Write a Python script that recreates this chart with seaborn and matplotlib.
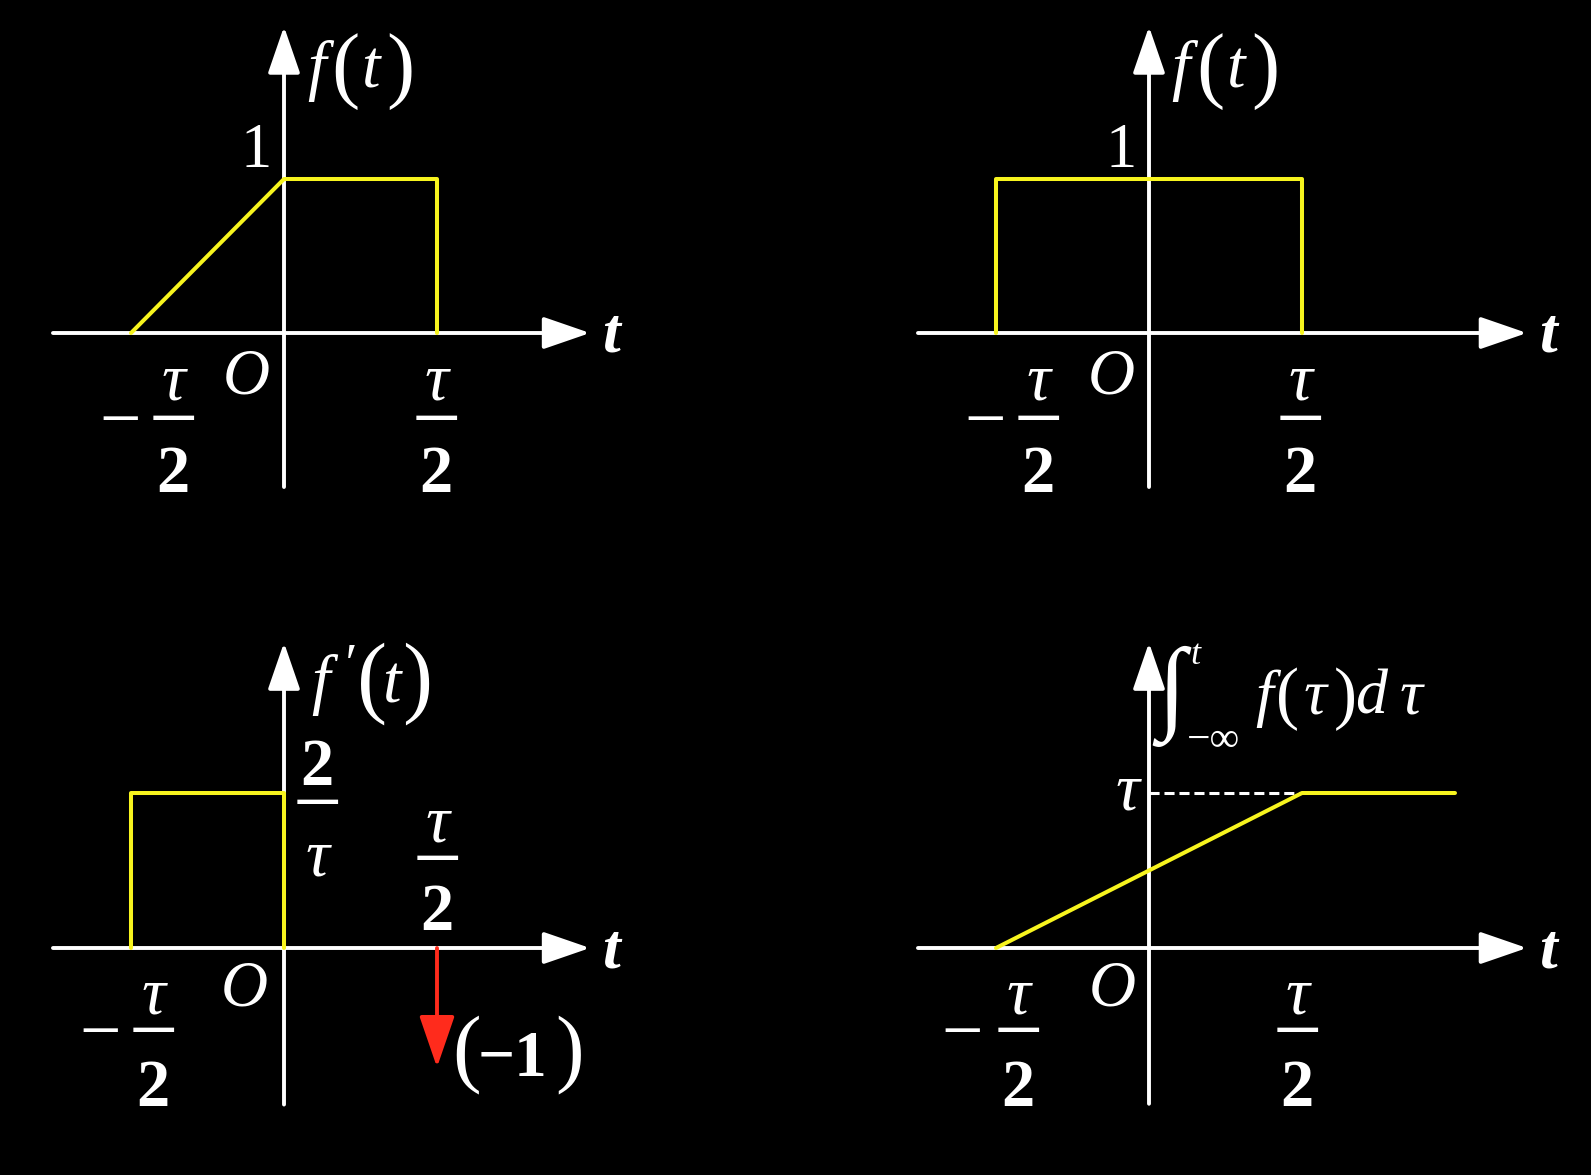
import matplotlib
matplotlib.use("Agg")
import matplotlib.pyplot as plt
import seaborn as sns

# ---------------- data (tau = 2, so tau/2 = 1) ----------------
# panel 1: trapezoid-like f(t)
p1_t = [-1, 0, 1, 1]
p1_v = [0, 1, 1, 0]
# panel 2: rectangular f(t)
p2_t = [-1, -1, 1, 1]
p2_v = [0, 1, 1, 0]
# panel 3: derivative f'(t) (height 2/tau = 1)
p3_t = [-1, -1, 0, 0]
p3_v = [0, 1, 1, 0]
impulse_t = 1
impulse_len = -0.77          # drawn length of the (-1) impulse
# panel 4: running integral
p4_t = [-1, 1, 2]
p4_v = [0, 2, 2]             # reaches tau = 2
ref_t = [0, 1]
ref_v = [2, 2]

YELLOW = "#f7f41e"
RED = "#ff2b1c"
W, H = 1591, 1175
PT = 0.72  # points per pixel at dpi 100

sns.set_style("dark")
plt.rcParams["font.family"] = ["Liberation Serif", "DejaVu Serif"]
plt.rcParams["figure.facecolor"] = "black"

fig = plt.figure(figsize=(W / 100, H / 100), dpi=100)
fig.patch.set_facecolor("black")


def make_axes(box, origin, ux, uy):
    l, t, r, b = box
    ox, oy = origin
    ax = fig.add_axes([l / W, 1 - b / H, (r - l) / W, (b - t) / H])
    ax.set_xlim((l - ox) / ux, (r - ox) / ux)
    ax.set_ylim((oy - b) / uy, (oy - t) / uy)
    ax.set_facecolor("black")
    ax.axis("off")
    return ax


def axes_arrows(ax, x0, x1, y0, y1):
    style = "-|>,head_length=1.45,head_width=0.5"
    kw = dict(arrowstyle=style, color="white", lw=2.8, mutation_scale=20,
              shrinkA=0, shrinkB=0)
    ax.annotate("", xy=(x1, 0), xytext=(x0, 0), arrowprops=kw, zorder=3)
    ax.annotate("", xy=(0, y1), xytext=(0, y0), arrowprops=kw, zorder=3)


def put(ax, x, y, dx, dy, s, size, style="normal", weight="normal", va="baseline"):
    ax.annotate(s, xy=(x, y), xycoords="data", xytext=(dx * PT, -dy * PT),
                textcoords="offset points", ha="center", va=va, fontsize=size,
                fontstyle=style, fontweight=weight, color="white",
                annotation_clip=False, zorder=6)


def frac_tau2(ax, x, dx, dy_tau, dy_bar, dy_two):
    put(ax, x, 0, dx, dy_tau, "τ", 48, style="italic")
    put(ax, x, 0, dx, dy_bar, "−", 63, va="center")
    put(ax, x, 0, dx, dy_two, "2", 48, weight="bold")


def yellow(ax, t, v):
    sns.lineplot(x=t, y=v, ax=ax, sort=False, estimator=None, color=YELLOW,
                 lw=2.9, zorder=4)


def ft_label(ax, ytip, prime=False):
    if prime:
        put(ax, 0, ytip, 36, 59, "f", 48, style="italic")
        put(ax, 0, ytip, 64, 26, "′", 40, style="italic", va="center")
        put(ax, 0, ytip, 88, 63, "(", 65)
        put(ax, 0, ytip, 107, 60, "t", 48, style="italic")
        put(ax, 0, ytip, 133, 63, ")", 65)
    else:
        put(ax, 0, ytip, 32, 61, "f", 48, style="italic")
        put(ax, 0, ytip, 61, 65, "(", 61)
        put(ax, 0, ytip, 86, 61, "t", 48, style="italic")
        put(ax, 0, ytip, 116, 65, ")", 61)


# ---------------- panel 1 ----------------
ax1 = make_axes((0, 0, 790, 590), (284, 333), 153, 154)
axes_arrows(ax1, -1.51, 2.0, -1.0, 1.99)
yellow(ax1, p1_t, p1_v)
ft_label(ax1, 1.99)
put(ax1, 0, 1, -28, -12, "1", 45)
put(ax1, 0, 0, -38, 60, "O", 47, style="italic")
put(ax1, 2.0, 0, 21, 19, "t", 46, style="italic", weight="bold")
put(ax1, -1, 0, -11, 92, "−", 53, va="center")
frac_tau2(ax1, -1, 42, 67, 92, 159)
frac_tau2(ax1, 1, -1, 67, 92, 159)

# ---------------- panel 2 ----------------
ax2 = make_axes((790, 0, W, 590), (1149, 333), 153, 154)
axes_arrows(ax2, -1.51, 2.47, -1.0, 1.99)
yellow(ax2, p2_t, p2_v)
ft_label(ax2, 1.99)
put(ax2, 0, 1, -28, -12, "1", 45)
put(ax2, 0, 0, -38, 60, "O", 47, style="italic")
put(ax2, 2.47, 0, 21, 19, "t", 46, style="italic", weight="bold")
put(ax2, -1, 0, -11, 92, "−", 53, va="center")
frac_tau2(ax2, -1, 42, 67, 92, 159)
frac_tau2(ax2, 1, -2, 67, 92, 159)

# ---------------- panel 3 ----------------
ax3 = make_axes((0, 590, 790, H), (284, 948), 153, 155)
axes_arrows(ax3, -1.51, 2.0, -1.01, 1.97)
yellow(ax3, p3_t, p3_v)
ax3.annotate("", xy=(impulse_t, impulse_len), xytext=(impulse_t, 0),
             arrowprops=dict(arrowstyle="-|>,head_length=1.6,head_width=0.55",
                             color=RED, lw=2.8, mutation_scale=20,
                             shrinkA=0, shrinkB=0), zorder=5)
ft_label(ax3, 1.97, prime=True)
# 2/tau label
put(ax3, 0, 1, 33, -8, "2", 48, weight="bold")
put(ax3, 0, 1, 33, 16, "−", 63, va="center")
put(ax3, 0, 1, 33, 82, "τ", 48, style="italic")
# tau/2 above axis
frac_tau2(ax3, 1, 0, -106, -82, -18)
put(ax3, 0, 0, -40, 57, "O", 47, style="italic")
put(ax3, 2.0, 0, 21, 19, "t", 46, style="italic", weight="bold")
put(ax3, -1, 0, -31, 89, "−", 53, va="center")
frac_tau2(ax3, -1, 22, 65, 89, 158)
# (-1)
put(ax3, impulse_t, 0, 30, 127, "(", 62)
put(ax3, impulse_t, 0, 75, 128, "−1", 47, weight="bold")
put(ax3, impulse_t, 0, 133, 127, ")", 62)

# ---------------- panel 4 ----------------
ax4 = make_axes((790, 590, W, H), (1149, 948), 153, 77.5)
axes_arrows(ax4, -1.51, 2.47, -2.01, 3.94)
sns.lineplot(x=ref_t, y=ref_v, ax=ax4, sort=False, estimator=None,
             color="white", lw=2.2, linestyle=(0, (3.3, 1.6)), zorder=3)
yellow(ax4, p4_t, p4_v)
put(ax4, 0, 2, -22, 16, "τ", 48, style="italic")
put(ax4, 0, 0, -37, 57, "O", 47, style="italic")
put(ax4, 2.47, 0, 21, 19, "t", 46, style="italic", weight="bold")
put(ax4, -1, 0, -34, 89, "−", 53, va="center")
frac_tau2(ax4, -1, 22, 65, 89, 158)
frac_tau2(ax4, 1, -5, 65, 89, 158)
# integral label
yt = 3.94
put(ax4, 0, yt, 22, 54, "∫", 74, weight="bold", va="center")
put(ax4, 0, yt, 46, 13, "t", 26, style="italic", va="center")
put(ax4, 0, yt, 64, 98, "−∞", 30, va="center")
put(ax4, 0, yt, 115, 71, "f", 46, style="italic")
put(ax4, 0, yt, 139, 73, "(", 50)
put(ax4, 0, yt, 166, 71, "τ", 46, style="italic")
put(ax4, 0, yt, 196, 73, ")", 50)
put(ax4, 0, yt, 222, 71, "d", 46, style="italic")
put(ax4, 0, yt, 262, 71, "τ", 46, style="italic")

fig.savefig("out.png", dpi=100, facecolor="black")
